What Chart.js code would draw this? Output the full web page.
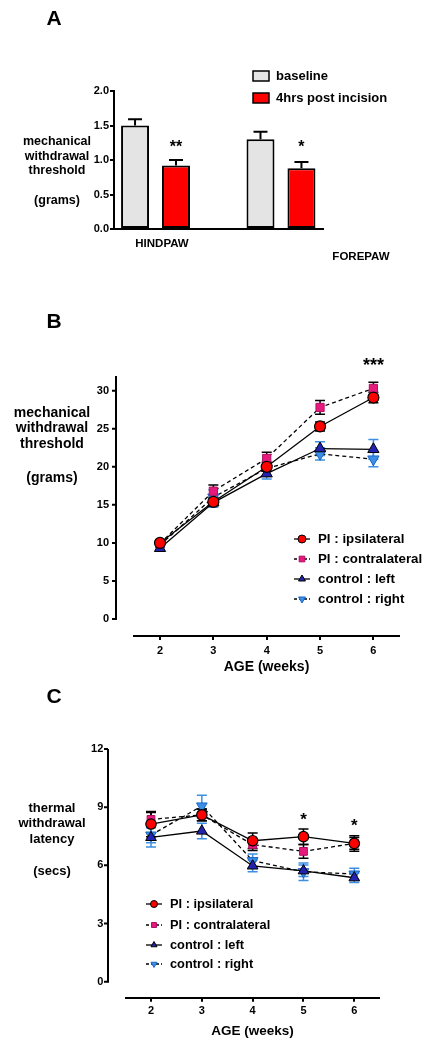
<!DOCTYPE html>
<html>
<head>
<meta charset="utf-8">
<script src="https://cdn.jsdelivr.net/npm/chart.js@4.4.0/dist/chart.umd.min.js"></script>
<style>
  html, body { margin: 0; padding: 0; background: #fff; }
  canvas { position: absolute; left: 0; }
</style>
</head>
<body>
<canvas id="chartA" width="436" height="290" style="top:0"></canvas>
<canvas id="chartB" width="436" height="390" style="top:290px"></canvas>
<canvas id="chartC" width="436" height="368" style="top:680px"></canvas>
<script>
// ---- data ----
const categoriesA = ['HINDPAW', 'FOREPAW'];
const baselineA = [1.50, 1.30];
const baselineSemA = [0.09, 0.11];
const incisionA = [0.92, 0.88];
const incisionSemA = [0.08, 0.09];
const ticksA = [0, 0.5, 1.0, 1.5, 2.0];

const weeks = [2, 3, 4, 5, 6];
const seriesNames = ['PI : ipsilateral', 'PI : contralateral', 'control : left', 'control : right'];

const ipsiB = [10.0, 15.4, 20.0, 25.3, 29.1];
const ipsiSemB = [0.3, 0.5, 0.6, 0.6, 0.7];
const contraB = [9.9, 16.8, 21.1, 27.8, 30.3];
const contraSemB = [0.3, 0.8, 0.8, 0.9, 0.8];
const leftB = [9.3, 15.3, 19.1, 22.4, 22.3];
const leftSemB = [0.3, 0.6, 0.7, 0.9, 1.3];
const rightB = [9.7, 16.0, 19.8, 21.7, 21.0];
const rightSemB = [0.3, 1.0, 0.9, 0.8, 1.0];
const ticksB = [0, 5, 10, 15, 20, 25, 30];

const ipsiC = [8.13, 8.60, 7.27, 7.48, 7.13];
const ipsiSemC = [0.65, 0.3, 0.4, 0.4, 0.4];
const contraC = [8.37, 8.60, 7.07, 6.72, 7.13];
const contraSemC = [0.35, 0.3, 0.3, 0.35, 0.3];
const leftC = [7.44, 7.77, 5.97, 5.72, 5.36];
const leftSemC = [0.5, 0.4, 0.3, 0.3, 0.25];
const rightC = [7.56, 9.06, 6.24, 5.67, 5.55];
const rightSemC = [0.4, 0.55, 0.35, 0.45, 0.3];
const ticksC = [0, 3, 6, 9, 12];

// ---- shared setup ----
const FONT = "'Liberation Sans', Arial, Helvetica, sans-serif";
Chart.defaults.font.family = FONT;
Chart.defaults.font.weight = 'bold';
Chart.defaults.color = '#000';
Chart.defaults.animation = false;

const RED = '#ff0000', PINK = '#e6197d', NAVY = '#2323b0', SKY = '#3c8fe4';

function pts(values) {
  return values.map((v, i) => ({ x: weeks[i], y: v }));
}

function text(ctx, str, x, y, size, align) {
  ctx.font = 'bold ' + size + 'px ' + FONT;
  ctx.fillStyle = '#000';
  ctx.textAlign = align || 'center';
  ctx.textBaseline = 'middle';
  ctx.fillText(str, x, y);
}

// error bars read from dataset.errors
const errorBars = {
  id: 'errorBars',
  beforeDatasetsDraw(chart) {
    if (chart.config.type !== 'line') return;
    drawErrors(chart);
  },
  afterDatasetsDraw(chart) {
    if (chart.config.type !== 'bar') return;
    drawErrors(chart);
  }
};

function drawErrors(chart) {
  const ctx = chart.ctx, ys = chart.scales.y;
  chart.data.datasets.forEach((ds, i) => {
    if (!ds.errors) return;
    const meta = chart.getDatasetMeta(i);
    const cap = ds.capWidth || 10;
    ctx.save();
    ctx.strokeStyle = ds.errorColor || '#000';
    ctx.lineWidth = ds.errorWidth || 1.5;
    meta.data.forEach((el, j) => {
      const v = ds.data[j].y;
      const e = ds.errors[j];
      const top = ys.getPixelForValue(v + e);
      const bot = chart.config.type === 'bar' ? ys.getPixelForValue(v) : ys.getPixelForValue(v - e);
      ctx.beginPath();
      ctx.moveTo(el.x, top); ctx.lineTo(el.x, bot);
      ctx.moveTo(el.x - cap / 2, top); ctx.lineTo(el.x + cap / 2, top);
      if (chart.config.type !== 'bar') {
        ctx.moveTo(el.x - cap / 2, bot); ctx.lineTo(el.x + cap / 2, bot);
      }
      ctx.stroke();
    });
    ctx.restore();
  });
}

// detached y axis (GraphPad style) drawn on the chart's y scale
function drawYAxis(chart, axisX, ticks) {
  const ctx = chart.ctx, ys = chart.scales.y;
  ctx.save();
  ctx.strokeStyle = '#000';
  ctx.lineWidth = 2;
  ctx.beginPath();
  ctx.moveTo(axisX, ys.getPixelForValue(0) + 1);
  ctx.lineTo(axisX, chart.chartArea.top);
  ticks.forEach(t => {
    const py = ys.getPixelForValue(t);
    ctx.moveTo(axisX - 4, py); ctx.lineTo(axisX, py);
  });
  ctx.stroke();
  ctx.restore();
}

function drawLegend(chart, mx, rows, size, r) {
  const ctx = chart.ctx;
  chart.data.datasets.forEach((ds, i) => {
    const y = rows[i];
    ctx.save();
    ctx.strokeStyle = '#000';
    ctx.lineWidth = 1.3;
    ctx.setLineDash(ds.borderDash ? [3, 2] : []);
    ctx.beginPath();
    ctx.moveTo(mx - 8, y); ctx.lineTo(mx + 8, y);
    ctx.stroke();
    ctx.setLineDash([]);
    ctx.fillStyle = ds.pointBackgroundColor;
    ctx.strokeStyle = ds.pointBorderColor;
    ctx.lineWidth = 1;
    Chart.helpers.drawPoint(ctx, {
      pointStyle: ds.pointStyle, rotation: ds.pointRotation || 0,
      radius: r, borderWidth: 1
    }, mx, y);
    ctx.restore();
    text(ctx, ds.label, mx + 16, y, size, 'left');
  });
}

function lineSets(ipsi, ipsiSem, contra, contraSem, left, leftSem, right, rightSem, scale) {
  return [
    { label: seriesNames[0], data: pts(ipsi), errors: ipsiSem, errorColor: '#000',
      borderColor: '#000', borderWidth: 1.3, pointStyle: 'circle', pointRadius: 5.5 * scale,
      pointBackgroundColor: RED, pointBorderColor: '#000', pointBorderWidth: 1.2 },
    { label: seriesNames[1], data: pts(contra), errors: contraSem, errorColor: '#000',
      borderColor: '#000', borderWidth: 1.3, borderDash: [4, 3], pointStyle: 'rect', pointRadius: 5.8 * scale,
      pointBackgroundColor: PINK, pointBorderColor: '#b0105e', pointBorderWidth: 1 },
    { label: seriesNames[2], data: pts(left), errors: leftSem, errorColor: SKY,
      borderColor: '#000', borderWidth: 1.3, pointStyle: 'triangle', pointRadius: 6.5 * scale,
      pointBackgroundColor: NAVY, pointBorderColor: '#000', pointBorderWidth: 1 },
    { label: seriesNames[3], data: pts(right), errors: rightSem, errorColor: SKY,
      borderColor: '#000', borderWidth: 1.3, borderDash: [4, 3], pointStyle: 'triangle', pointRotation: 180,
      pointRadius: 6.5 * scale, pointBackgroundColor: SKY, pointBorderColor: '#1a65c8', pointBorderWidth: 1 }
  ];
}

// ---- panel A ----
new Chart(document.getElementById('chartA'), {
  type: 'bar',
  data: {
    datasets: [
      { label: 'baseline', data: baselineA.map((v, i) => ({ x: i, y: v })), errors: baselineSemA,
        backgroundColor: '#e4e4e4', borderColor: '#000', borderWidth: 2, borderSkipped: false, capWidth: 14, errorWidth: 2 },
      { label: '4hrs post incision', data: incisionA.map((v, i) => ({ x: i, y: v })), errors: incisionSemA,
        backgroundColor: RED, borderColor: '#000', borderWidth: 2, borderSkipped: false, capWidth: 14, errorWidth: 2 }
    ]
  },
  options: {
    responsive: false,
    categoryPercentage: 0.653,
    barPercentage: 0.683,
    layout: { padding: { left: 0, right: 113, top: 91, bottom: 0 } },
    plugins: { legend: { display: false }, tooltip: { enabled: false } },
    scales: {
      x: {
        type: 'linear', min: -0.331, max: 1.335, offset: false, bounds: 'data',
        afterBuildTicks: s => { s.ticks = categoriesA.map((c, i) => ({ value: i })); },
        afterFit: s => { s.height = 61; },
        ticks: { display: false },
        grid: { display: false, offset: false },
        border: { display: true, color: '#000', width: 2 }
      },
      y: {
        min: 0, max: 2,
        afterBuildTicks: s => { s.ticks = ticksA.map(v => ({ value: v })); },
        afterFit: s => { s.width = 114; },
        ticks: { padding: 1, font: { size: 11, weight: 'bold' }, callback: v => v.toFixed(1) },
        grid: { display: true, drawOnChartArea: false, drawTicks: true, tickLength: 4, color: '#000', lineWidth: 2 },
        border: { display: true, color: '#000', width: 2 }
      }
    }
  },
  plugins: [errorBars, {
    id: 'textA',
    afterDraw(chart) {
      const ctx = chart.ctx;
      text(ctx, 'A', 54, 19, 21);
      ['mechanical', 'withdrawal', 'threshold'].forEach((t, i) => text(ctx, t, 57, 142 + i * 14.5, 12.5));
      text(ctx, '(grams)', 57, 201, 12.5);
      text(ctx, categoriesA[0], 162, 244, 11.5);
      text(ctx, categoriesA[1], 361, 257, 11.5);
      const red = chart.getDatasetMeta(1).data;
      text(ctx, '**', red[0].x, 148, 16);
      text(ctx, '*', red[1].x, 148, 16);
      chart.data.datasets.forEach((ds, i) => {
        const y = 76 + i * 22;
        ctx.fillStyle = ds.backgroundColor;
        ctx.strokeStyle = '#000';
        ctx.lineWidth = 1.5;
        ctx.fillRect(253, y - 5, 16, 10);
        ctx.strokeRect(253, y - 5, 16, 10);
        text(ctx, ds.label, 276, y, 13, 'left');
      });
    }
  }]
});

// ---- panel B ----
new Chart(document.getElementById('chartB'), {
  type: 'line',
  data: { datasets: lineSets(ipsiB, ipsiSemB, contraB, contraSemB, leftB, leftSemB, rightB, rightSemB, 1) },
  options: {
    responsive: false,
    layout: { padding: { left: 0, right: 37, top: 86, bottom: 0 } },
    plugins: { legend: { display: false }, tooltip: { enabled: false } },
    scales: {
      x: {
        type: 'linear', min: 1.5125, max: 6.48,
        afterBuildTicks: s => { s.ticks = weeks.map(v => ({ value: v })); },
        afterFit: s => { s.height = 44; },
        ticks: { padding: 4, font: { size: 11, weight: 'bold' } },
        grid: { display: true, drawOnChartArea: false, drawTicks: true, tickLength: 4, color: '#000', lineWidth: 2 },
        border: { display: true, color: '#000', width: 2 },
        title: { display: true, text: 'AGE (weeks)', font: { size: 14, weight: 'bold' }, padding: { top: 0, bottom: 4.6 } }
      },
      y: {
        min: -2.23, max: 31.93,
        afterBuildTicks: s => { s.ticks = ticksB.map(v => ({ value: v })); },
        afterFit: s => { s.width = 134; },
        ticks: { padding: 25, font: { size: 11, weight: 'bold' } },
        grid: { display: false, drawTicks: false },
        border: { display: false }
      }
    }
  },
  plugins: [errorBars, {
    id: 'textB',
    afterDraw(chart) {
      const ctx = chart.ctx;
      drawYAxis(chart, 116, ticksB);
      text(ctx, 'B', 54, 32, 21);
      ['mechanical', 'withdrawal', 'threshold'].forEach((t, i) => text(ctx, t, 52, 123 + i * 15.5, 14));
      text(ctx, '(grams)', 52, 188, 14);
      text(ctx, '***', chart.scales.x.getPixelForValue(6), 76, 18);
      drawLegend(chart, 302, [249, 269, 289, 309], 13.3, 4);
    }
  }]
});

// ---- panel C ----
new Chart(document.getElementById('chartC'), {
  type: 'line',
  data: { datasets: lineSets(ipsiC, ipsiSemC, contraC, contraSemC, leftC, leftSemC, rightC, rightSemC, 0.95) },
  options: {
    responsive: false,
    layout: { padding: { left: 0, right: 57, top: 69, bottom: 0 } },
    plugins: { legend: { display: false }, tooltip: { enabled: false } },
    scales: {
      x: {
        type: 'linear', min: 1.508, max: 6.486,
        afterBuildTicks: s => { s.ticks = weeks.map(v => ({ value: v })); },
        afterFit: s => { s.height = 50.3; },
        ticks: { padding: 2.3, font: { size: 11, weight: 'bold' } },
        grid: { display: true, drawOnChartArea: false, drawTicks: true, tickLength: 4, color: '#000', lineWidth: 2 },
        border: { display: true, color: '#000', width: 2 },
        title: { display: true, text: 'AGE (weeks)', font: { size: 13.5, weight: 'bold' }, padding: { top: 0, bottom: 8.9 } }
      },
      y: {
        min: -0.825, max: 12,
        afterBuildTicks: s => { s.ticks = ticksC.map(v => ({ value: v })); },
        afterFit: s => { s.width = 126; },
        ticks: { padding: 22.7, font: { size: 11, weight: 'bold' } },
        grid: { display: false, drawTicks: false },
        border: { display: false }
      }
    }
  },
  plugins: [errorBars, {
    id: 'textC',
    afterDraw(chart) {
      const ctx = chart.ctx;
      drawYAxis(chart, 108, ticksC);
      text(ctx, 'C', 54, 17, 21);
      ['thermal', 'withdrawal', 'latency'].forEach((t, i) => text(ctx, t, 52, 128 + i * 15.5, 13));
      text(ctx, '(secs)', 52, 191, 13);
      const xs = chart.scales.x;
      text(ctx, '*', xs.getPixelForValue(5), 140, 17);
      text(ctx, '*', xs.getPixelForValue(6), 146, 17);
      drawLegend(chart, 154, [224, 245, 265, 284], 12.8, 3.5);
    }
  }]
});
</script>
</body>
</html>
